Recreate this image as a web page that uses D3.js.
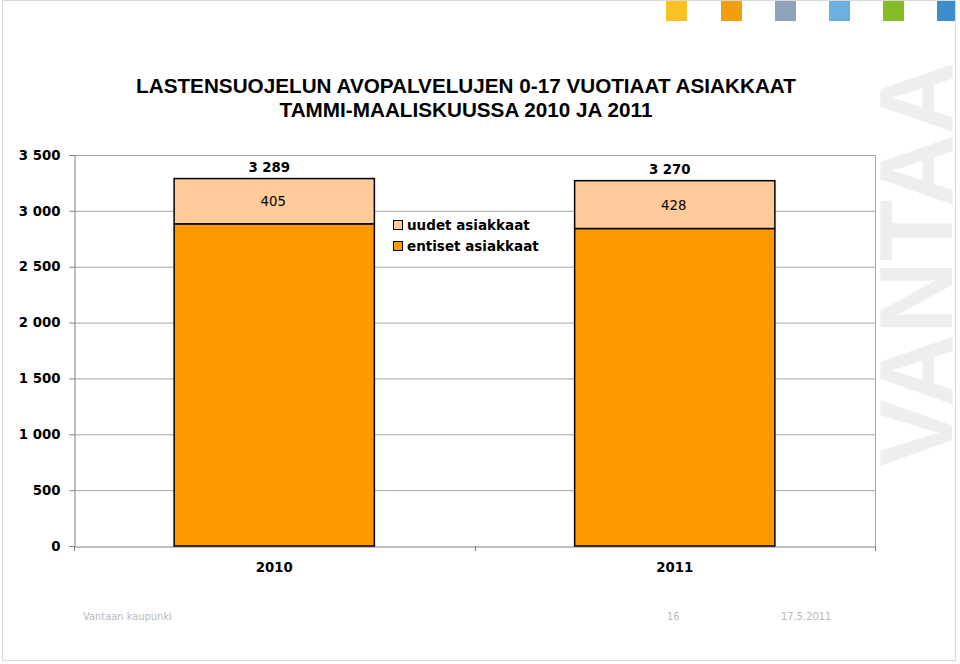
<!DOCTYPE html>
<html><head><meta charset="utf-8">
<script src="https://cdn.jsdelivr.net/npm/d3@7"></script>
<style>body{margin:0;background:#fff}svg{display:block}</style>
</head><body>
<script>
const categories = ["2010", "2011"];
const entiset = [2884, 2842];
const uudet = [405, 428];
const totals = [3289, 3270];
const yTicks = [0, 500, 1000, 1500, 2000, 2500, 3000, 3500];
const seriesNames = ["uudet asiakkaat", "entiset asiakkaat"];
const seriesColors = ["#FFCC99", "#FF9900"];
const squareColors = ["#F9C222", "#F29F0F", "#8FA3B8", "#6CB0E0", "#86BC25", "#3C8DC8"];

const W = 960, H = 664;
const svg = d3.select("body").append("svg").attr("width", W).attr("height", H);

// frame
svg.append("rect").attr("x", 2.5).attr("y", 0.5).attr("width", 953).attr("height", 660)
  .attr("fill", "none").attr("stroke", "#d8d8d8").attr("stroke-width", 1);

// top squares
const sqX = [666, 721, 775, 829, 883, 937];
squareColors.forEach((c, i) => {
  svg.append("rect").attr("x", sqX[i]).attr("y", 1).attr("width", i === 5 ? 18 : 21).attr("height", 20).attr("fill", c);
});

// watermark
svg.append("text").attr("transform", "translate(952,264) rotate(-90)")
  .attr("text-anchor", "middle")
  .attr("font-family", "Liberation Sans, Arial, sans-serif").attr("font-weight", "bold")
  .attr("font-size", 104).attr("textLength", 405).attr("lengthAdjust", "spacingAndGlyphs")
  .attr("fill", "#eeeeee").text("VANTAA");

// title
const title = svg.append("text").attr("text-anchor", "middle")
  .attr("font-family", "Liberation Sans, Arial, sans-serif").attr("font-weight", "bold")
  .attr("font-size", 20.7).attr("fill", "#000");
title.append("tspan").attr("x", 466).attr("y", 93).text("LASTENSUOJELUN AVOPALVELUJEN 0-17 VUOTIAAT ASIAKKAAT");
title.append("tspan").attr("x", 466).attr("y", 117).text("TAMMI-MAALISKUUSSA 2010 JA 2011");

const pLeft = 74, pRight = 875, pTop = 155, pBottom = 546;
const x = d3.scaleBand().domain(categories).range([pLeft, pRight]).paddingInner(0).paddingOuter(0);
const y = d3.scaleLinear().domain([0, 3500]).range([pBottom, pTop]);

// gridlines
svg.append("g").selectAll("line").data(yTicks.filter(d => d > 0)).join("line")
  .attr("x1", pLeft).attr("x2", pRight).attr("y1", d => y(d) + 0.5).attr("y2", d => y(d) + 0.5)
  .attr("stroke", "#a6a6a6").attr("stroke-width", 1);
// right border
svg.append("line").attr("x1", pRight + 0.5).attr("x2", pRight + 0.5).attr("y1", pTop).attr("y2", pBottom)
  .attr("stroke", "#a6a6a6");

// y axis
const yAxis = svg.append("g").attr("transform", `translate(${pLeft + 0.5},0)`)
  .call(d3.axisLeft(y).tickValues(yTicks).tickSize(5).tickPadding(9)
    .tickFormat(d => d3.format(",")(d).replace(/,/g, " ")));
yAxis.select(".domain").attr("stroke", "#808080");
yAxis.selectAll(".tick line").attr("stroke", "#808080");
yAxis.selectAll("text").attr("font-family", "Verdana, DejaVu Sans, sans-serif").attr("font-weight", "bold")
  .attr("font-size", 13.3).attr("fill", "#000");

// x axis
const xAxis = svg.append("g").attr("transform", `translate(0,${pBottom + 0.5})`)
  .call(d3.axisBottom(x).tickSize(0).tickPadding(16));
xAxis.select(".domain").attr("stroke", "#808080");
xAxis.selectAll("text").attr("font-family", "Verdana, DejaVu Sans, sans-serif").attr("font-weight", "bold")
  .attr("font-size", 13.3).attr("fill", "#000");
const xTicks = [pLeft, (pLeft + pRight) / 2, pRight];
svg.append("g").selectAll("line").data(xTicks).join("line")
  .attr("x1", d => Math.round(d) + 0.5).attr("x2", d => Math.round(d) + 0.5)
  .attr("y1", pBottom).attr("y2", pBottom + 5).attr("stroke", "#808080");

// bars
const bw = x.bandwidth() * 0.5;
const bx = d => x(d) + (x.bandwidth() - bw) / 2;
const g = svg.append("g");
categories.forEach((c, i) => {
  g.append("rect").attr("x", bx(c)).attr("y", y(entiset[i])).attr("width", bw)
    .attr("height", y(0) - y(entiset[i])).attr("fill", seriesColors[1])
    .attr("stroke", "#000").attr("stroke-width", 1.5);
  g.append("rect").attr("x", bx(c)).attr("y", y(entiset[i] + uudet[i])).attr("width", bw)
    .attr("height", y(entiset[i]) - y(entiset[i] + uudet[i])).attr("fill", seriesColors[0])
    .attr("stroke", "#000").attr("stroke-width", 1.5);
  g.append("text").attr("x", x(c) + x.bandwidth() / 2 - 1)
    .attr("y", (y(entiset[i]) + y(entiset[i] + uudet[i])) / 2 + 5)
    .attr("text-anchor", "middle").attr("font-family", "Verdana, DejaVu Sans, sans-serif")
    .attr("font-size", 13.3).attr("fill", "#000").text(uudet[i]);
  g.append("text").attr("x", x(c) + x.bandwidth() / 2 - 5)
    .attr("y", y(totals[i]) - 7)
    .attr("text-anchor", "middle").attr("font-family", "Verdana, DejaVu Sans, sans-serif")
    .attr("font-weight", "bold").attr("font-size", 13.3).attr("fill", "#000")
    .text(d3.format(",")(totals[i]).replace(/,/g, " "));
});

// legend
const leg = svg.append("g").attr("transform", "translate(393,220)");
seriesNames.forEach((n, i) => {
  leg.append("rect").attr("x", 0.5).attr("y", i * 21 + 0.5).attr("width", 9).attr("height", 9)
    .attr("fill", seriesColors[i]).attr("stroke", "#000");
  leg.append("text").attr("x", 14).attr("y", i * 21 + 10)
    .attr("font-family", "Verdana, DejaVu Sans, sans-serif").attr("font-weight", "bold")
    .attr("font-size", 13.5).attr("fill", "#000").text(n);
});

// footer
const ft = svg.append("g").attr("font-family", "DejaVu Sans Condensed, DejaVu Sans, sans-serif").attr("font-size", 11).attr("fill", "#b8b8b8");
ft.append("text").attr("x", 83).attr("y", 620).text("Vantaan kaupunki");
ft.append("text").attr("x", 667).attr("y", 620).text("16");
ft.append("text").attr("x", 781).attr("y", 620).text("17.5.2011");
</script>
</body></html>
